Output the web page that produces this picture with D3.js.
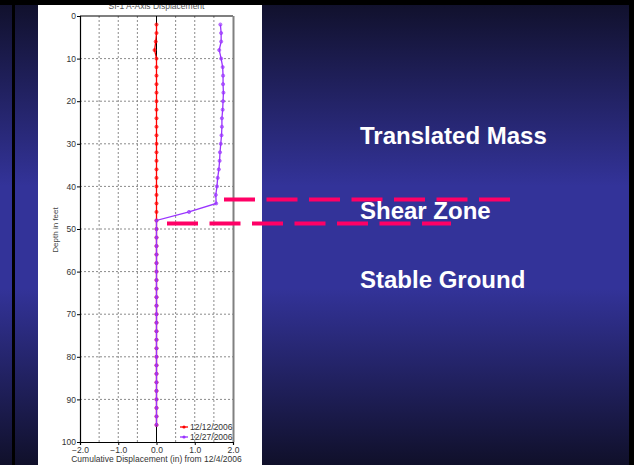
<!DOCTYPE html>
<html>
<head>
<meta charset="utf-8">
<script src="https://cdn.jsdelivr.net/npm/d3@7"></script>
<style>
  body { margin: 0; background: #000; }
  svg { display: block; }
</style>
</head>
<body>
<svg width="634" height="465"></svg>
<script>
// data
const depths = [2,4,6,8,10,12,14,16,18,20,22,24,26,28,30,32,34,36,38,40,42,44,46,48,
  50,52,54,56,58,60,62,64,66,68,70,72,74,76,78,80,82,84,86,88,90,92,94,96];
const dec12 = [0,0,-0.02,-0.05,0,0,0,0,0,0,0,0,0,0,0,0,0,0,0,0,0,0,0,0,
  0,0,0,0,0,0,0,0,0,0,0,0,0,0,0,0,0,0,0,0,0,0,0,0];
const dec27 = [1.67,1.69,1.69,1.64,1.69,1.73,1.74,1.74,1.75,1.74,1.73,1.71,1.71,1.70,1.68,1.66,
  1.65,1.63,1.60,1.58,1.55,1.56,0.85,0,
  0,0,0,0,0,0,0,0,0,0,0,0,0,0,0,0,0,0,0,0,0,0,0,0];
const seriesNames = ['12/12/2006', '12/27/2006'];
const seriesColors = ['#ff0000', '#9933ff'];
const xTicks = [-2, -1, 0, 1, 2];
const xGrid = [-1.5, -1, -0.5, 0.5, 1, 1.5];
const yTicks = [0,10,20,30,40,50,60,70,80,90,100];
const shearDepths = [43.1, 48.7];   // top and bottom of the shear zone
const labels = ['Translated Mass', 'Shear Zone', 'Stable Ground'];

const svg = d3.select('svg');
const font = '"Liberation Sans", Arial, sans-serif';

// slide background
const defs = svg.append('defs');
const grad = defs.append('linearGradient').attr('id', 'bg')
  .attr('x1', 0).attr('y1', 0).attr('x2', 0).attr('y2', 1);
grad.append('stop').attr('offset', '0%').attr('stop-color', '#10102a');
grad.append('stop').attr('offset', '40%').attr('stop-color', '#333399');
grad.append('stop').attr('offset', '62%').attr('stop-color', '#333399');
grad.append('stop').attr('offset', '100%').attr('stop-color', '#10102a');

svg.append('rect').attr('width', 634).attr('height', 465).attr('fill', 'url(#bg)');

// white chart panel
svg.append('rect').attr('x', 38).attr('y', 5).attr('width', 224).attr('height', 460).attr('fill', '#fff');

const x = d3.scaleLinear().domain([-2, 2]).range([80, 233]);
const y = d3.scaleLinear().domain([0, 100]).range([16, 442]);

const g = svg.append('g');

// grid
g.selectAll('.vg').data(xGrid).join('line')
  .attr('x1', d => x(d)).attr('x2', d => x(d))
  .attr('y1', y(0)).attr('y2', y(100))
  .attr('stroke', '#8a8a8a').attr('stroke-width', 1).attr('stroke-dasharray', '2,2');
g.selectAll('.hg').data(yTicks.slice(1, -1)).join('line')
  .attr('x1', x(-2)).attr('x2', x(2))
  .attr('y1', d => y(d)).attr('y2', d => y(d))
  .attr('stroke', '#8a8a8a').attr('stroke-width', 1).attr('stroke-dasharray', '2,2');

// zero line and frame
g.append('line').attr('x1', x(0)).attr('x2', x(0)).attr('y1', y(0)).attr('y2', y(100))
  .attr('stroke', '#000').attr('stroke-width', 1);
g.append('line').attr('x1', x(-2)).attr('x2', x(2)).attr('y1', y(0)).attr('y2', y(0))
  .attr('stroke', '#000').attr('stroke-width', 1.2);
g.append('line').attr('x1', x(2) + 0.5).attr('x2', x(2) + 0.5).attr('y1', y(0)).attr('y2', y(100))
  .attr('stroke', '#808080').attr('stroke-width', 2);

// axes
const yAxis = d3.axisLeft(y).tickValues(yTicks).tickSize(3).tickFormat(d3.format('d'));
const xAxis = d3.axisBottom(x).tickValues(xTicks).tickSize(3).tickFormat(d3.format('.1f'));
const ya = g.append('g').attr('transform', `translate(${x(-2)},0)`).call(yAxis);
const xa = g.append('g').attr('transform', `translate(0,${y(100)})`).call(xAxis);
[ya, xa].forEach(a => {
  a.select('.domain').attr('stroke', '#000').attr('stroke-width', 1.2);
  a.selectAll('.tick line').attr('stroke', '#000');
  a.selectAll('text').attr('font-family', font).attr('font-size', 8.5).attr('fill', '#333');
});
ya.selectAll('text').attr('x', -4);
xa.selectAll('text').attr('y', 5);

// axis titles
g.append('text').attr('transform', `translate(58,${y(50) + 1}) rotate(-90)`)
  .attr('text-anchor', 'middle').attr('font-family', font).attr('font-size', 8)
  .attr('fill', '#444').text('Depth in feet');
g.append('text').attr('x', x(0)).attr('y', 462).attr('text-anchor', 'middle')
  .attr('font-family', font).attr('font-size', 8.5).attr('fill', '#333')
  .text('Cumulative Displacement (in) from 12/4/2006');
g.append('text').attr('x', x(0)).attr('y', 9).attr('text-anchor', 'middle')
  .attr('font-family', font).attr('font-size', 8.5).attr('fill', '#555')
  .text('SI-1 A-Axis Displacement');

// series
const series = [dec12, dec27].map((vals, i) => ({
  name: seriesNames[i], color: seriesColors[i],
  pts: depths.map((dp, j) => ({ d: dp, v: vals[j] }))
}));
const line = d3.line().x(p => x(p.v)).y(p => y(p.d));

series.forEach(s => {
  g.append('path').datum(s.pts).attr('d', line)
    .attr('fill', 'none').attr('stroke', s.color).attr('stroke-width', 1.3);
  g.selectAll(null).data(s.pts).join('circle')
    .attr('cx', p => x(p.v)).attr('cy', p => y(p.d)).attr('r', 1.6)
    .attr('fill', s.color).attr('fill-opacity', 0.6).attr('stroke', s.color).attr('stroke-width', 0.6);
});

// legend
const lg = g.selectAll('.lg').data(series).join('g')
  .attr('transform', (s, i) => `translate(180,${427 + i * 10})`);
lg.append('line').attr('x1', 0).attr('x2', 8).attr('stroke', s => s.color).attr('stroke-width', 1.3);
lg.append('circle').attr('cx', 4).attr('r', 1.6).attr('fill', s => s.color);
lg.append('text').attr('x', 10).attr('y', 3).attr('font-family', font).attr('font-size', 8.5)
  .attr('fill', '#333').text(s => s.name);

// slide frame (covers the top of the chart title, as on the slide)
svg.append('rect').attr('x', 0).attr('y', 0).attr('width', 634).attr('height', 5).attr('fill', '#000');
svg.append('rect').attr('x', 12).attr('y', 0).attr('width', 3).attr('height', 465).attr('fill', '#000');
svg.append('rect').attr('x', 629).attr('y', 0).attr('width', 5).attr('height', 465).attr('fill', '#000');

// shear zone dashed markers
const shearSpans = [[224, 510], [167, 451]];
svg.selectAll('.shear').data(shearDepths).join('line')
  .attr('x1', (d, i) => shearSpans[i][0]).attr('x2', (d, i) => shearSpans[i][1])
  .attr('y1', d => y(d)).attr('y2', d => y(d))
  .attr('stroke', '#ff0066').attr('stroke-width', 4).attr('stroke-dasharray', '31,11.5');

// slide labels
const labelY = [144, 219, 288];
svg.selectAll('.lbl').data(labels).join('text')
  .attr('x', 360).attr('y', (d, i) => labelY[i])
  .attr('font-family', font).attr('font-weight', 'bold').attr('font-size', 24)
  .attr('fill', '#fff').text(d => d);
</script>
</body>
</html>
